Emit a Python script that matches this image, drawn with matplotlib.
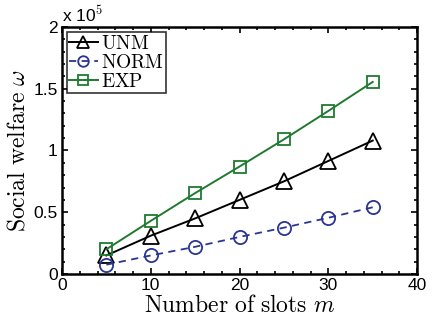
import numpy as np
import matplotlib
matplotlib.use("Agg")
from matplotlib import pyplot as plt
from matplotlib.ticker import MultipleLocator, FuncFormatter

slots = [5, 10, 15, 20, 25, 30, 35]
unm = [0.15, 0.31, 0.45, 0.60, 0.75, 0.915, 1.08]
norm = [0.075, 0.15, 0.22, 0.30, 0.375, 0.455, 0.54]
exp = [0.20, 0.43, 0.655, 0.87, 1.09, 1.32, 1.555]

plt.rcParams['mathtext.fontset'] = 'cm'

fig = plt.figure(figsize=(4.32, 3.25), dpi=100)
ax = fig.add_axes([0.1435, 0.157, 0.822, 0.76])

ax.plot(slots, unm, color='black', linestyle='-', linewidth=1.4, marker='^',
        markersize=11, markerfacecolor='none', markeredgewidth=1.3,
        label=r'$\mathrm{UNM}$')
ax.plot(slots, norm, color='#2a3592', linestyle='--', linewidth=1.3, marker='o',
        markersize=9.5, markerfacecolor='none', markeredgewidth=1.3,
        label=r'$\mathrm{NORM}$', dashes=(4, 3))
ax.plot(slots, exp, color='#1f7a30', linestyle='-', linewidth=1.4, marker='s',
        markersize=8.5, markerfacecolor='none', markeredgewidth=1.3,
        label=r'$\mathrm{EXP}$')

ax.set_xlim(0, 40)
ax.set_ylim(0, 2)
ax.xaxis.set_major_locator(MultipleLocator(10))
ax.xaxis.set_minor_locator(MultipleLocator(2))
ax.yaxis.set_major_locator(MultipleLocator(0.5))
ax.yaxis.set_minor_locator(MultipleLocator(0.1))
ax.yaxis.set_major_formatter(FuncFormatter(lambda v, p: f"{v:g}"))
ax.tick_params(which='both', direction='in', top=True, right=True,
               labelsize=12.5, width=1.2, pad=3)
ax.tick_params(which='major', length=4)
ax.tick_params(which='minor', length=2)
for lbl in ax.get_xticklabels() + ax.get_yticklabels():
    lbl.set_family('Liberation Sans')
for s in ax.spines.values():
    s.set_linewidth(1.8)

ax.set_xlabel(r'$\mathrm{Number\ of\ slots}\ m$', fontsize=17, labelpad=0)
ax.set_ylabel(r'$\mathrm{Social\ welfare}\ \omega$', fontsize=17, labelpad=3)
ax.text(0.0, 1.01, r'x 10$^{\mathsf{5}}$', transform=ax.transAxes,
        family='Liberation Sans', fontsize=12.5, ha='left', va='bottom')

leg = ax.legend(loc='upper left', prop={'size': 14},
                frameon=True, fancybox=False, edgecolor='black',
                borderpad=0.1, labelspacing=0.0, handlelength=1.5,
                handletextpad=0.15, borderaxespad=0.25, markerscale=0.8)
leg.get_frame().set_linewidth(1.2)

fig.savefig('out.png', dpi=100)
